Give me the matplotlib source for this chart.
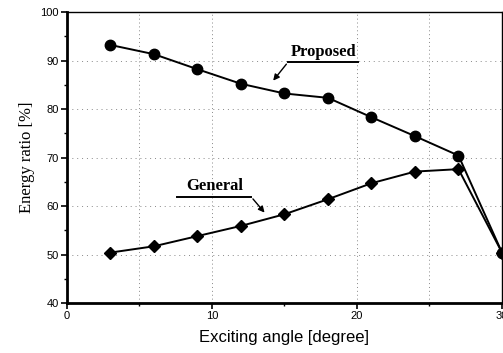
import numpy as np
import matplotlib
matplotlib.use("Agg")
import matplotlib.pyplot as plt
from matplotlib.ticker import MultipleLocator

# --- dane ---
angle = [3, 6, 9, 12, 15, 18, 21, 24, 27, 30]
proposed = [93.2, 91.3, 88.2, 85.2, 83.2, 82.3, 78.3, 74.4, 70.4, 50.4]
general = [50.4, 51.7, 53.8, 55.9, 58.3, 61.4, 64.7, 67.1, 67.6, 50.4]

x_ticks = [0, 10, 20, 30]
y_ticks = [40, 50, 60, 70, 80, 90, 100]

fig = plt.figure(figsize=(5.03, 3.53), dpi=100)
ax = fig.add_axes([0.1332, 0.1416, 0.8648, 0.8244])

# siatka kropkowana (slabo widoczna jak na skanie)
for xv in [5, 10, 20, 25]:
    ax.axvline(xv, color="#888888", lw=0.7, ls=(0, (1, 3)), zorder=0)
for yv in [50, 60, 70, 80, 90]:
    ax.axhline(yv, color="#888888", lw=0.7, ls=(0, (1, 4)), zorder=0)

ax.plot(angle, proposed, color="black", lw=1.4, marker="o", ms=7.5,
        clip_on=False, zorder=3)
ax.plot(angle, general, color="black", lw=1.4, marker="D", ms=6.5,
        clip_on=False, zorder=3)

ax.set_xlim(0, 30)
ax.set_ylim(40, 100)
ax.set_xticks(x_ticks)
ax.set_yticks(y_ticks)
ax.xaxis.set_minor_locator(MultipleLocator(5))
ax.yaxis.set_minor_locator(MultipleLocator(5))
ax.tick_params(which="major", direction="out", length=4, width=1.2,
               labelsize=8, pad=2)
ax.tick_params(which="minor", direction="out", length=2.5, width=1)
for lab in ax.get_xticklabels() + ax.get_yticklabels():
    lab.set_family("Liberation Sans")

ax.spines["left"].set_linewidth(2)
ax.spines["bottom"].set_linewidth(2)
ax.spines["top"].set_linewidth(1)
ax.spines["right"].set_linewidth(1)

ax.set_xlabel("Exciting angle [degree]", family="Liberation Sans",
              fontsize=12, labelpad=6)
ax.set_ylabel("Energy ratio [%]", family="Liberation Serif",
              fontsize=12, labelpad=4)

# adnotacje z podkresleniem i strzalka
ax.text(17.7, 90.2, "Proposed", family="Liberation Serif", weight="bold",
        fontsize=12, ha="center", va="bottom")
ax.plot([15.25, 20.1], [89.7, 89.7], color="black", lw=1.4)
ax.annotate("", xy=(14.1, 85.4), xytext=(15.25, 89.7),
            arrowprops=dict(arrowstyle="-|>", color="black", lw=1.0,
                            mutation_scale=9))

ax.text(10.2, 62.5, "General", family="Liberation Serif", weight="bold",
        fontsize=12, ha="center", va="bottom")
ax.plot([7.6, 12.7], [61.9, 61.9], color="black", lw=1.4)
ax.annotate("", xy=(13.75, 58.2), xytext=(12.7, 61.9),
            arrowprops=dict(arrowstyle="-|>", color="black", lw=1.0,
                            mutation_scale=9))

fig.savefig("out.png", dpi=100)
